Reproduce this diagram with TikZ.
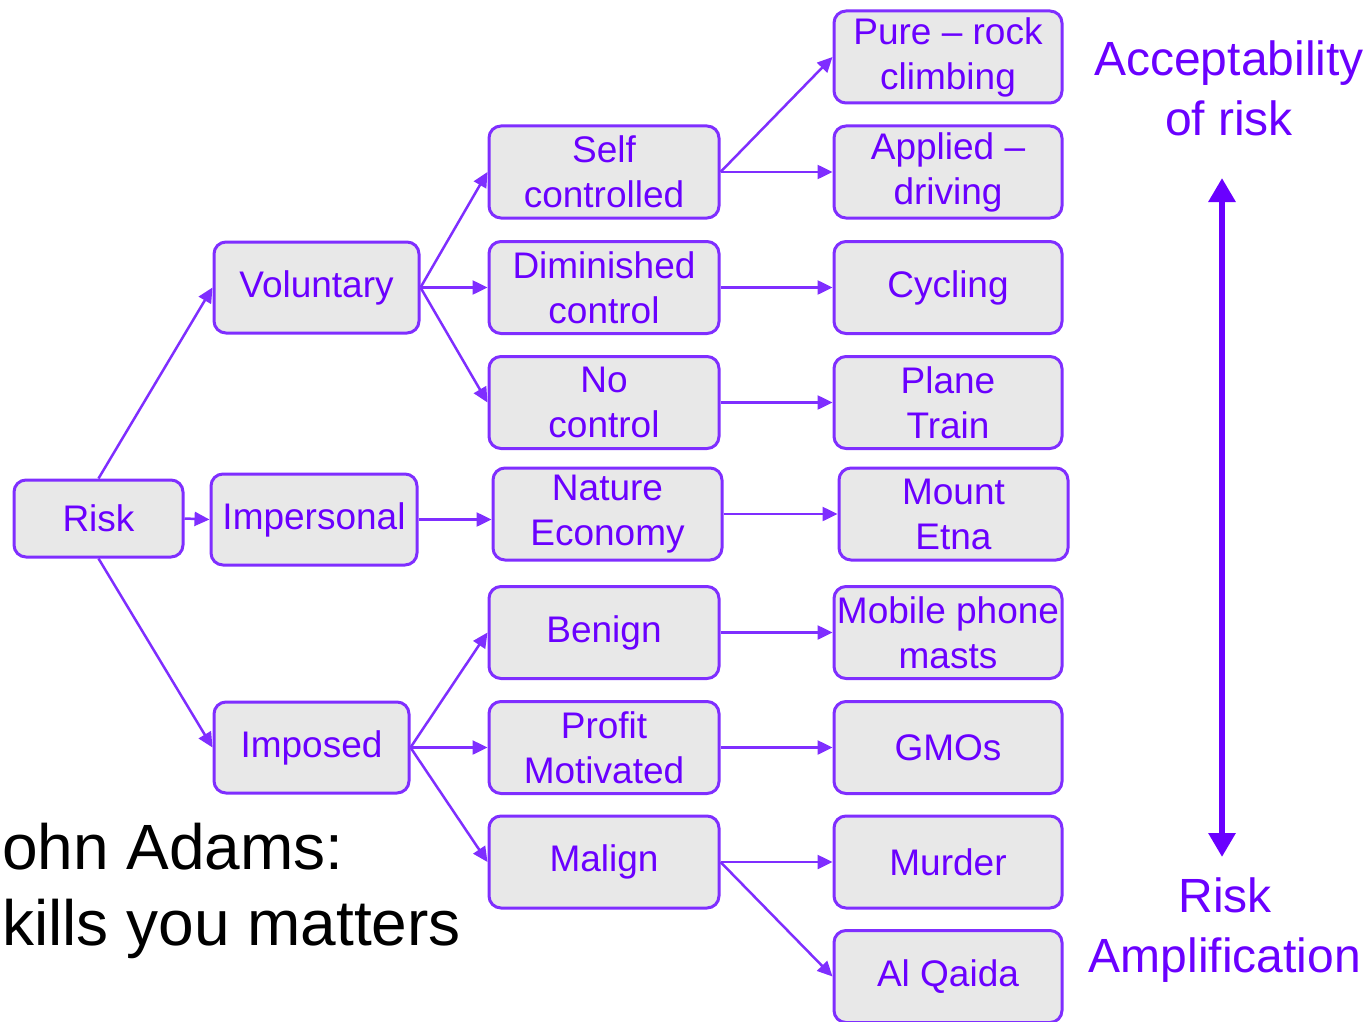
\documentclass[tikz,border=0pt]{standalone}
\usepackage{fontspec}
\setmainfont{Liberation Sans}
\usetikzlibrary{arrows.meta}
\definecolor{riskviolet}{HTML}{6A00FF}
\definecolor{riskedge}{HTML}{7F2EFF}
\definecolor{riskfill}{HTML}{E8E8E8}

\begin{document}
\begin{tikzpicture}[x=1pt,y=-1pt]
                \tikzset{box/.style={draw=riskedge, line width=3pt, fill=riskfill, rounded corners=12pt,
                text=riskviolet, align=center, minimum width=230pt, minimum height=92pt, inner sep=0pt,
                font=\fontsize{37}{45}\selectfont},
                link/.style={draw=riskedge, line width=2.5pt, -{Triangle[length=15pt,width=14pt]}}}
                \useasboundingbox (0,0) rectangle (1368,1022);

                \node[box, minimum width=169pt, minimum height=77pt] (risk) at (98.5,518.5) {Risk};
                \node[box, minimum width=205pt, minimum height=91pt] (vol) at (316.5,287.5) {Voluntary};
                \node[box, minimum width=206pt, minimum height=91pt] (imp) at (314,519.5) {Impersonal};
                \node[box, minimum width=195pt, minimum height=91pt] (impo) at (311.5,747.5) {Imposed};

                \node[box] (self) at (604,172) {Self\\controlled};
                \node[box] (dim) at (604,287.5) {Diminished\\control};
                \node[box] (noc) at (604,402.5) {No\\control};
                \node[box, minimum width=229pt] (nat) at (607.5,514) {Nature\\Economy};
                \node[box] (ben) at (604,632.5) {Benign};
                \node[box] (pro) at (604,747.5) {Profit\\Motivated};
                \node[box] (mal) at (604,862) {Malign};

                \node[box, minimum width=228pt] (pure) at (948,57) {Pure -- rock\\climbing};
                \node[box, minimum width=228pt] (app) at (948,172) {Applied --\\driving};
                \node[box, minimum width=228pt] (cyc) at (948,287.5) {Cycling};
                \node[box, minimum width=228pt] (pla) at (948,402.5) {Plane\\Train};
                \node[box, minimum width=229pt] (etna) at (953.5,514) {Mount\\Etna};
                \node[box, minimum width=228pt] (mob) at (948,632.5) {Mobile phone\\masts};
                \node[box, minimum width=228pt] (gmo) at (948,747.5) {GMOs};
                \node[box, minimum width=228pt] (mur) at (948,862) {Murder};
                \node[box, minimum width=228pt] (alq) at (948,976.5) {Al Qaida};

                \draw[link] (risk.north) -- (vol.west);
                \draw[link] (risk.east) -- (imp.west);
                \draw[link] (risk.south) -- (impo.west);
                \draw[link] (vol.east) -- (self.west);
                \draw[link] (vol.east) -- (dim.west);
                \draw[link] (vol.east) -- (noc.west);
                \draw[link] (imp.east) -- (imp.east -| nat.west);
                \draw[link] (impo.east) -- (ben.west);
                \draw[link] (impo.east) -- (pro.west);
                \draw[link] (impo.east) -- (mal.west);
                \draw[link] (self.east) -- (pure.west);
                \draw[link] (self.east) -- (app.west);
                \draw[link] (dim.east) -- (cyc.west);
                \draw[link] (noc.east) -- (pla.west);
                \draw[link] (nat.east) -- (etna.west);
                \draw[link] (ben.east) -- (mob.west);
                \draw[link] (pro.east) -- (gmo.west);
                \draw[link] (mal.east) -- (mur.west);
                \draw[link] (mal.east) -- (alq.west);

                \node[text=riskviolet, align=center, font=\fontsize{48}{60}\selectfont] (accept) at (1229,88) {Acceptability\\of risk};
                \node[text=riskviolet, align=center, font=\fontsize{48}{60}\selectfont] (ampl) at (1225,930) {Risk\\Amplification};
                \coordinate (top) at (1222,178);
                \coordinate (bottom) at (1222,857);
                \draw[riskviolet, line width=6pt, {Triangle[length=24pt,width=26pt]}-{Triangle[length=24pt,width=26pt]}] (top) -- (bottom);

                \node[anchor=base west, align=left, inner sep=0pt, font=\fontsize{64}{76}\selectfont] (adams) at (2,945) {ohn Adams:\\kills you matters};
            \end{tikzpicture}
\end{document}
